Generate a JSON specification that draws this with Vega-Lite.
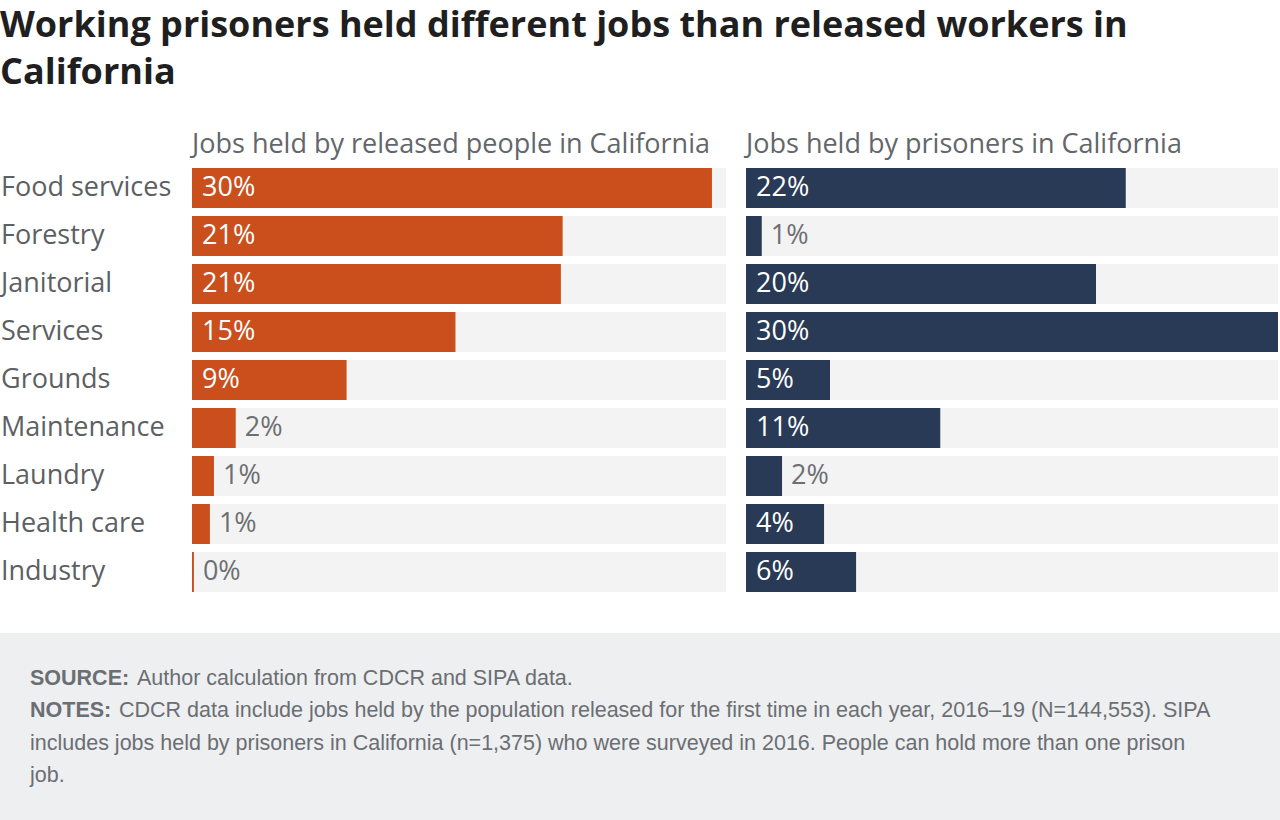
{
  "$schema": "https://vega.github.io/schema/vega-lite/v6.json",
  "padding": {"top": 8, "left": 0, "right": 0, "bottom": 0},
  "background": "#ffffff",
  "title": {
    "text": ["Working prisoners held different jobs than released workers in", "California"],
    "anchor": "start",
    "frame": "bounds",
    "font": "Open Sans",
    "fontSize": 36,
    "fontWeight": "bold",
    "color": "#1f1f1f",
    "lineHeight": 47,
    "baseline": "top",
    "offset": 39
  },
  "datasets": {
    "jobs": [
      {"job": "Food services", "released": 0.296, "prisoners": 0.217},
      {"job": "Forestry", "released": 0.211, "prisoners": 0.009},
      {"job": "Janitorial", "released": 0.210, "prisoners": 0.200},
      {"job": "Services", "released": 0.150, "prisoners": 0.304},
      {"job": "Grounds", "released": 0.088, "prisoners": 0.048},
      {"job": "Maintenance", "released": 0.0249, "prisoners": 0.111},
      {"job": "Laundry", "released": 0.0125, "prisoners": 0.0206},
      {"job": "Health care", "released": 0.0102, "prisoners": 0.0446},
      {"job": "Industry", "released": 0.0011, "prisoners": 0.0629}
    ],
    "notes": [
      {"line": 1, "head": "SOURCE:", "body": "Author calculation from CDCR and SIPA data."},
      {"line": 2, "head": "NOTES:", "body": "CDCR data include jobs held by the population released for the first time in each year, 2016–19 (N=144,553). SIPA"},
      {"line": 3, "head": "", "body": "includes jobs held by prisoners in California (n=1,375) who were surveyed in 2016. People can hold more than one prison"},
      {"line": 4, "head": "", "body": "job."}
    ]
  },
  "spacing": 40,
  "vconcat": [
    {
      "spacing": 20,
      "bounds": "flush",
      "hconcat": [
        {
          "width": 172,
          "height": 424,
          "data": {"name": "jobs"},
          "mark": {"type": "text", "align": "left", "baseline": "middle", "x": 0, "dx": 1, "font": "Open Sans", "fontSize": 27, "color": "#5c5f64"},
          "encoding": {
            "y": {
              "field": "job",
              "type": "nominal",
              "sort": null,
              "scale": {"type": "band", "paddingInner": 0.1667, "paddingOuter": 0},
              "axis": null
            },
            "text": {"field": "job"}
          }
        },
        {
          "width": 534,
          "height": 424,
          "data": {"name": "jobs"},
          "title": {
            "text": "Jobs held by released people in California",
            "anchor": "start",
            "frame": "group",
            "font": "Open Sans",
            "fontSize": 27,
            "fontWeight": "normal",
            "color": "#63666b",
            "offset": 9
          },
          "encoding": {
            "y": {
              "field": "job",
              "type": "nominal",
              "sort": null,
              "scale": {"paddingInner": 0.1667, "paddingOuter": 0},
              "axis": null
            }
          },
          "layer": [
            {
              "mark": {"type": "bar", "color": "#f3f3f3"},
              "encoding": {
                "x": {"datum": 0.304, "type": "quantitative", "scale": {"domain": [0, 0.304], "nice": false}, "axis": null}
              }
            },
            {
              "mark": {"type": "bar", "color": "#ca4f1c"},
              "encoding": {"x": {"field": "released", "type": "quantitative"}}
            },
            {
              "transform": [{"filter": "datum.released >= 0.03"}],
              "mark": {"type": "text", "align": "left", "baseline": "middle", "dx": 10, "font": "Open Sans", "fontSize": 27, "color": "#ffffff"},
              "encoding": {
                "x": {"datum": 0, "type": "quantitative"},
                "text": {"field": "released", "format": ".0%"}
              }
            },
            {
              "transform": [{"filter": "datum.released < 0.03"}],
              "mark": {"type": "text", "align": "left", "baseline": "middle", "dx": 9, "font": "Open Sans", "fontSize": 27, "color": "#6d6f73"},
              "encoding": {
                "x": {"field": "released", "type": "quantitative"},
                "text": {"field": "released", "format": ".0%"}
              }
            }
          ]
        },
        {
          "width": 532,
          "height": 424,
          "data": {"name": "jobs"},
          "title": {
            "text": "Jobs held by prisoners in California",
            "anchor": "start",
            "frame": "group",
            "font": "Open Sans",
            "fontSize": 27,
            "fontWeight": "normal",
            "color": "#63666b",
            "offset": 9
          },
          "encoding": {
            "y": {
              "field": "job",
              "type": "nominal",
              "sort": null,
              "scale": {"paddingInner": 0.1667, "paddingOuter": 0},
              "axis": null
            }
          },
          "layer": [
            {
              "mark": {"type": "bar", "color": "#f3f3f3"},
              "encoding": {
                "x": {"datum": 0.304, "type": "quantitative", "scale": {"domain": [0, 0.304], "nice": false}, "axis": null}
              }
            },
            {
              "mark": {"type": "bar", "color": "#283a55"},
              "encoding": {"x": {"field": "prisoners", "type": "quantitative"}}
            },
            {
              "transform": [{"filter": "datum.prisoners >= 0.03"}],
              "mark": {"type": "text", "align": "left", "baseline": "middle", "dx": 10, "font": "Open Sans", "fontSize": 27, "color": "#ffffff"},
              "encoding": {
                "x": {"datum": 0, "type": "quantitative"},
                "text": {"field": "prisoners", "format": ".0%"}
              }
            },
            {
              "transform": [{"filter": "datum.prisoners < 0.03"}],
              "mark": {"type": "text", "align": "left", "baseline": "middle", "dx": 9, "font": "Open Sans", "fontSize": 27, "color": "#6d6f73"},
              "encoding": {
                "x": {"field": "prisoners", "type": "quantitative"},
                "text": {"field": "prisoners", "format": ".0%"}
              }
            }
          ]
        }
      ]
    },
    {
      "width": 1280,
      "height": 188,
      "data": {"name": "notes"},
      "view": {"fill": "#eeeff1", "stroke": null},
      "encoding": {
        "y": {
          "field": "line",
          "type": "quantitative",
          "scale": {"domain": [-0.424, 5.396], "reverse": true, "nice": false, "zero": false},
          "axis": null
        }
      },
      "layer": [
        {
          "mark": {"type": "text", "align": "left", "baseline": "middle", "x": 30, "font": "Liberation Sans", "fontSize": 21.5, "fontWeight": "bold", "color": "#6b6e73"},
          "encoding": {"text": {"field": "head"}}
        },
        {
          "transform": [{"filter": "datum.line == 1"}],
          "mark": {"type": "text", "align": "left", "baseline": "middle", "x": 30, "dx": 107, "font": "Liberation Sans", "fontSize": 21.5, "color": "#6b6e73"},
          "encoding": {"text": {"field": "body"}}
        },
        {
          "transform": [{"filter": "datum.line == 2"}],
          "mark": {"type": "text", "align": "left", "baseline": "middle", "x": 30, "dx": 89, "font": "Liberation Sans", "fontSize": 21.5, "color": "#6b6e73"},
          "encoding": {"text": {"field": "body"}}
        },
        {
          "transform": [{"filter": "datum.line > 2"}],
          "mark": {"type": "text", "align": "left", "baseline": "middle", "x": 30, "font": "Liberation Sans", "fontSize": 21.5, "color": "#6b6e73"},
          "encoding": {"text": {"field": "body"}}
        }
      ]
    }
  ],
  "config": {
    "view": {"stroke": null},
    "concat": {"spacing": 20}
  }
}
